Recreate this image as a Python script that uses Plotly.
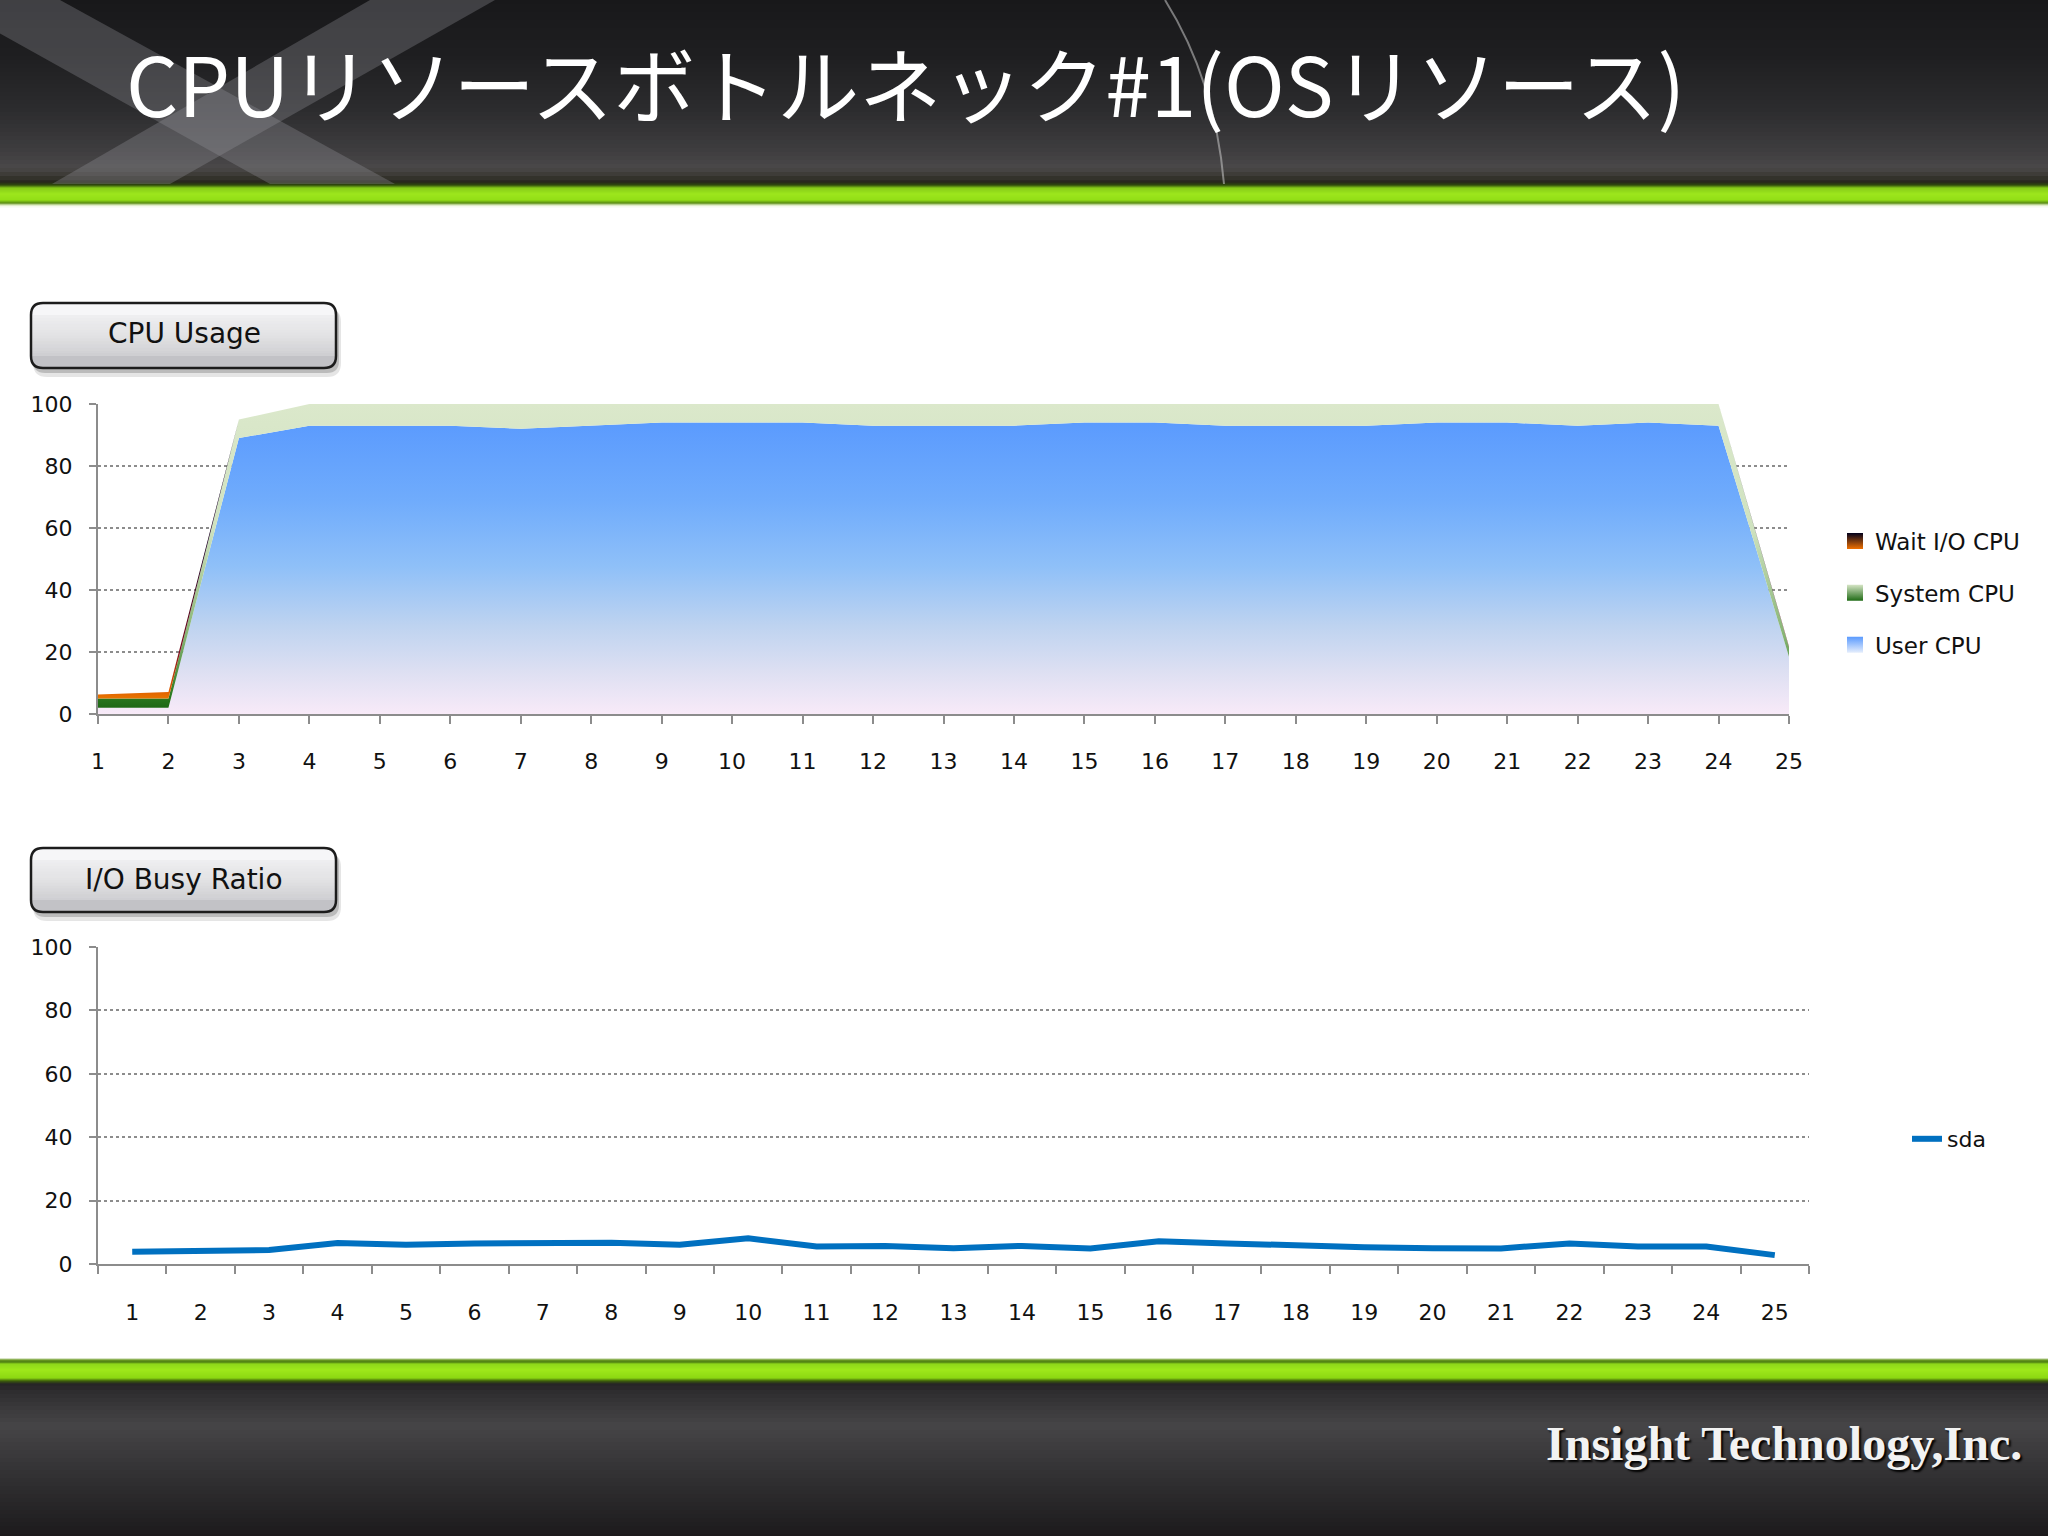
import plotly.graph_objects as go

W, H = 2048, 1536

# ---------------- data ----------------
intervals = ["1", "2", "3", "4", "5", "6", "7", "8", "9", "10", "11", "12", "13",
             "14", "15", "16", "17", "18", "19", "20", "21", "22", "23", "24", "25"]
interval_nums = [1, 2, 3, 4, 5, 6, 7, 8, 9, 10, 11, 12, 13,
                 14, 15, 16, 17, 18, 19, 20, 21, 22, 23, 24, 25]
user_cpu = [2, 2, 89, 93, 93, 93, 92, 93, 94, 94, 94, 93, 93,
            93, 94, 94, 93, 93, 93, 94, 94, 93, 94, 93, 18.5]
system_cpu = [3, 3, 6, 7, 7, 7, 8, 7, 6, 6, 6, 7, 7,
              7, 6, 6, 7, 7, 7, 6, 6, 7, 6, 7, 3]
wait_io_cpu = [1.3, 2.1, 0, 0, 0, 0, 0, 0, 0, 0, 0, 0, 0,
               0, 0, 0, 0, 0, 0, 0, 0, 0, 0, 0, 0.3]
sda_busy = [3.9, 4.2, 4.4, 6.6, 6.1, 6.5, 6.7, 6.7, 6.1, 8.1, 5.5, 5.7, 5.0,
            5.7, 4.9, 7.2, 6.5, 5.7, 5.3, 5.0, 4.9, 6.5, 5.5, 5.5, 2.8]
y_ticks = [0, 20, 40, 60, 80, 100]

TITLE = "CPUリソースボトルネック#1(OSリソース)"
COMPANY = "Insight Technology,Inc."


def X(x):
    return x / W


def Y(y):
    return 1 - y / H


def hex2rgb(h):
    h = h.lstrip("#")
    return tuple(int(h[i:i + 2], 16) for i in (0, 2, 4))


def interp_color(stops, y):
    if y <= stops[0][0]:
        return stops[0][1]
    for (y0, c0), (y1, c1) in zip(stops[:-1], stops[1:]):
        if y0 <= y <= y1:
            t = 0 if y1 == y0 else (y - y0) / (y1 - y0)
            a, b = hex2rgb(c0), hex2rgb(c1)
            r = [round(a[i] + (b[i] - a[i]) * t) for i in range(3)]
            return "rgb(%d,%d,%d)" % tuple(r)
    return stops[-1][1]


shapes = []


def gradient_band(y_start, y_end, step, stops, x0=0, x1=W):
    y = y_start
    while y < y_end:
        y2 = min(y + step, y_end)
        c = interp_color(stops, (y + y2) / 2)
        shapes.append(dict(type="rect", xref="paper", yref="paper",
                           x0=X(x0), x1=X(x1), y0=Y(y2 + 0.6), y1=Y(y),
                           fillcolor=c, line=dict(width=0), layer="below"))
        y = y2


def rounded_path(x0, y0, x1, y1, r, top_round=True, bottom_round=True):
    p = []
    if top_round:
        p.append(f"M {X(x0 + r)},{Y(y0)} L {X(x1 - r)},{Y(y0)} Q {X(x1)},{Y(y0)} {X(x1)},{Y(y0 + r)}")
    else:
        p.append(f"M {X(x0)},{Y(y0)} L {X(x1)},{Y(y0)}")
    if bottom_round:
        p.append(f"L {X(x1)},{Y(y1 - r)} Q {X(x1)},{Y(y1)} {X(x1 - r)},{Y(y1)} "
                 f"L {X(x0 + r)},{Y(y1)} Q {X(x0)},{Y(y1)} {X(x0)},{Y(y1 - r)}")
    else:
        p.append(f"L {X(x1)},{Y(y1)} L {X(x0)},{Y(y1)}")
    if top_round:
        p.append(f"L {X(x0)},{Y(y0 + r)} Q {X(x0)},{Y(y0)} {X(x0 + r)},{Y(y0)} Z")
    else:
        p.append("Z")
    return " ".join(p)


# ---------------- header ----------------
header_stops = [(0, "#18181a"), (60, "#1f1f21"), (110, "#2c2c2e"), (150, "#3e3d3f"),
                (168, "#4a4849"), (176, "#3a3832"), (182, "#26261c"), (185, "#2f4a0c"),
                (188, "#86cc18"), (194, "#9de61c"), (200, "#92de16"), (203, "#5a8c12"),
                (205, "#d6e6b8"), (207, "#ffffff")]
gradient_band(0, 180, 4, header_stops)
gradient_band(180, 207, 1, header_stops)

# decorative "X" in header
shapes.append(dict(type="path", xref="paper", yref="paper",
                   path=f"M {X(-60)},{Y(0)} L {X(60)},{Y(0)} L {X(395)},{Y(184)} L {X(270)},{Y(184)} Z",
                   fillcolor="rgba(150,150,156,0.32)", line=dict(width=0), layer="below"))
shapes.append(dict(type="path", xref="paper", yref="paper",
                   path=f"M {X(370)},{Y(0)} L {X(495)},{Y(0)} L {X(170)},{Y(184)} L {X(52)},{Y(184)} Z",
                   fillcolor="rgba(150,150,156,0.32)", line=dict(width=0), layer="below"))
shapes.append(dict(type="path", xref="paper", yref="paper",
                   path=f"M {X(1165)},{Y(0)} Q {X(1215)},{Y(80)} {X(1224)},{Y(184)}",
                   line=dict(color="rgba(200,200,200,0.55)", width=2), layer="below"))

# ---------------- footer ----------------
footer_stops = [(1358, "#fdfdfd"), (1360, "#6a9a22"), (1362, "#4d7d12"), (1364, "#8ed81a"),
                (1370, "#9ee81a"), (1378, "#8cd812"), (1381, "#3c5c0a"), (1384, "#252425"),
                (1392, "#2e2d2f"), (1425, "#464547"), (1470, "#343335"), (1536, "#1c1a1c")]
gradient_band(1358, 1386, 1, footer_stops)
gradient_band(1386, 1536, 4, footer_stops)


# ---------------- title boxes ----------------
def title_box(x0, y0, x1, y1, r=12):
    box_stops = [(y0, "#f6f6f8"), ((y0 + y1) / 2, "#e2e2e4"), (y1, "#c2c2c6")]
    shapes.append(dict(type="path", xref="paper", yref="paper",
                       path=rounded_path(x0 + 2, y0 + 5, x1 + 5, y1 + 9, r + 2),
                       fillcolor="rgba(0,0,0,0.10)", line=dict(width=0), layer="below"))
    shapes.append(dict(type="path", xref="paper", yref="paper",
                       path=rounded_path(x0 + 2, y0 + 4, x1 + 3, y1 + 5, r),
                       fillcolor="rgba(0,0,0,0.18)", line=dict(width=0), layer="below"))
    shapes.append(dict(type="path", xref="paper", yref="paper",
                       path=rounded_path(x0, y0, x1, y1, r),
                       fillcolor=box_stops[0][1], line=dict(width=0), layer="below"))
    n = 14
    hh = (y1 - r) - (y0 + r)
    for i in range(n):
        ya = y0 + r + hh * i / n
        yb = y0 + r + hh * (i + 1) / n
        c = interp_color(box_stops, (ya + yb) / 2)
        shapes.append(dict(type="rect", xref="paper", yref="paper",
                           x0=X(x0), x1=X(x1), y0=Y(yb + 0.6), y1=Y(ya),
                           fillcolor=c, line=dict(width=0), layer="below"))
    shapes.append(dict(type="path", xref="paper", yref="paper",
                       path=rounded_path(x0, y1 - r, x1, y1, r, top_round=False),
                       fillcolor=box_stops[-1][1], line=dict(width=0), layer="below"))
    shapes.append(dict(type="path", xref="paper", yref="paper",
                       path=rounded_path(x0, y0, x1, y1, r),
                       line=dict(color="#1c1c1c", width=2.5), layer="below"))


title_box(31, 303, 336, 368)
title_box(31, 848, 336, 912)

# ---------------- traces ----------------
fig = go.Figure()

cpu_series = [
    ("User CPU", user_cpu, "user", 3,
     [[0, "#f8eaf8"], [0.15, "#dcdff2"], [0.3, "#bed3f0"], [0.5, "#8fc0f8"],
      [0.72, "#70acfc"], [1, "#5a9afe"]], 95, ("#5a9afe", "#e6eefc")),
    ("System CPU", system_cpu, "system", 2,
     [[0, "#175f10"], [0.06, "#2c7a20"], [0.25, "#86b474"], [0.6, "#cfe2bf"],
      [1, "#dbe8cb"]], 100, ("#d4e4c4", "#1e6a14")),
    ("Wait I/O CPU", wait_io_cpu, "wait", 1,
     [[0, "#f2a400"], [0.08, "#e05a00"], [0.2, "#801020"], [0.5, "#200020"],
      [1, "#000018"]], 100, ("#00001c", "#f07000")),
]

for name, vals, grp, rank, cscale, stop, _ in cpu_series:
    fig.add_trace(go.Scatter(
        x=interval_nums, y=vals, name=name, mode="lines",
        stackgroup="cpu", line=dict(width=0),
        fillgradient=dict(type="vertical", start=0, stop=stop, colorscale=cscale),
        showlegend=False, legendgroup=grp, xaxis="x", yaxis="y", hoverinfo="skip"))

# legend swatches (square gradient markers, like the original)
for name, vals, grp, rank, cscale, stop, (c_top, c_bot) in cpu_series:
    fig.add_trace(go.Scatter(
        x=[None], y=[None], name=name, mode="markers",
        marker=dict(symbol="square", size=16, color=c_top,
                    gradient=dict(type="vertical", color=c_bot),
                    line=dict(width=0)),
        legend="legend", legendgroup=grp, legendrank=rank,
        xaxis="x", yaxis="y", hoverinfo="skip"))

fig.add_trace(go.Scatter(
    x=intervals, y=sda_busy, name="sda", mode="lines",
    line=dict(color="#0070c0", width=6),
    legend="legend2", xaxis="x2", yaxis="y2", hoverinfo="skip"))

# ---------------- layout ----------------
axis_color = "#8c8c8c"
tick_font = dict(family="DejaVu Sans", size=22, color="#111111")

common_x = dict(ticks="outside", ticklen=8, tickwidth=2, tickcolor=axis_color,
                showline=True, linecolor=axis_color, linewidth=2, showgrid=False,
                zeroline=False, tickfont=tick_font, fixedrange=True)
common_y = dict(range=[0, 100], tickmode="array", tickvals=y_ticks, ticks="outside",
                ticklen=7, tickwidth=2, tickcolor=axis_color, showline=True,
                linecolor=axis_color, linewidth=2, showgrid=True, gridcolor=axis_color,
                griddash="dot", gridwidth=1.5, zeroline=False, tickfont=tick_font,
                ticklabelstandoff=12, fixedrange=True)

annotations = [
    dict(text=TITLE, x=X(124), y=Y(82), xref="paper", yref="paper", xanchor="left",
         yanchor="middle", showarrow=False,
         font=dict(family="Noto Sans CJK JP", size=82, color="#ffffff")),
    dict(text="CPU Usage", x=X(184), y=Y(334), xref="paper", yref="paper",
         xanchor="center", yanchor="middle", showarrow=False,
         font=dict(family="DejaVu Sans", size=28, color="#111111")),
    dict(text="I/O Busy Ratio", x=X(184), y=Y(879), xref="paper", yref="paper",
         xanchor="center", yanchor="middle", showarrow=False,
         font=dict(family="DejaVu Sans", size=28, color="#111111")),
    dict(text=COMPANY, x=X(2024), y=Y(1443), xref="paper", yref="paper",
         xanchor="right", yanchor="middle", showarrow=False,
         font=dict(family="Liberation Serif", size=48, color="#f2f2f2", weight="bold",
                   shadow="2px 2px 2px #000000")),
]

fig.update_layout(
    width=W, height=H,
    margin=dict(l=0, r=0, t=0, b=0, autoexpand=False),
    paper_bgcolor="#ffffff", plot_bgcolor="rgba(0,0,0,0)",
    showlegend=True,
    xaxis=dict(domain=[X(98), X(1789)], anchor="y", range=[1, 25], tickmode="array",
               tickvals=interval_nums, ticktext=intervals, ticklabelstandoff=19,
               **common_x),
    yaxis=dict(domain=[Y(714), Y(404)], anchor="x", **common_y),
    xaxis2=dict(domain=[X(98), X(1809)], anchor="y2", type="category",
                categoryorder="array", categoryarray=intervals, tickson="boundaries",
                range=[-0.5, 24.5], ticklabelstandoff=28, **common_x),
    yaxis2=dict(domain=[Y(1264), Y(947)], anchor="x2", **common_y),
    legend=dict(x=X(1835), y=Y(593), xanchor="left", yanchor="middle",
                traceorder="grouped", tracegroupgap=19,
                font=dict(family="DejaVu Sans", size=23, color="#111111"),
                bgcolor="rgba(0,0,0,0)", itemclick=False, itemdoubleclick=False),
    legend2=dict(x=X(1907), y=Y(1139), xanchor="left", yanchor="middle",
                 font=dict(family="DejaVu Sans", size=22, color="#111111"),
                 bgcolor="rgba(0,0,0,0)", itemclick=False, itemdoubleclick=False),
    shapes=shapes,
    annotations=annotations,
    hovermode=False,
)

fig.write_html("out.html", config={"displayModeBar": False},
               post_script="document.body.style.margin='0';document.body.style.overflow='hidden';")
